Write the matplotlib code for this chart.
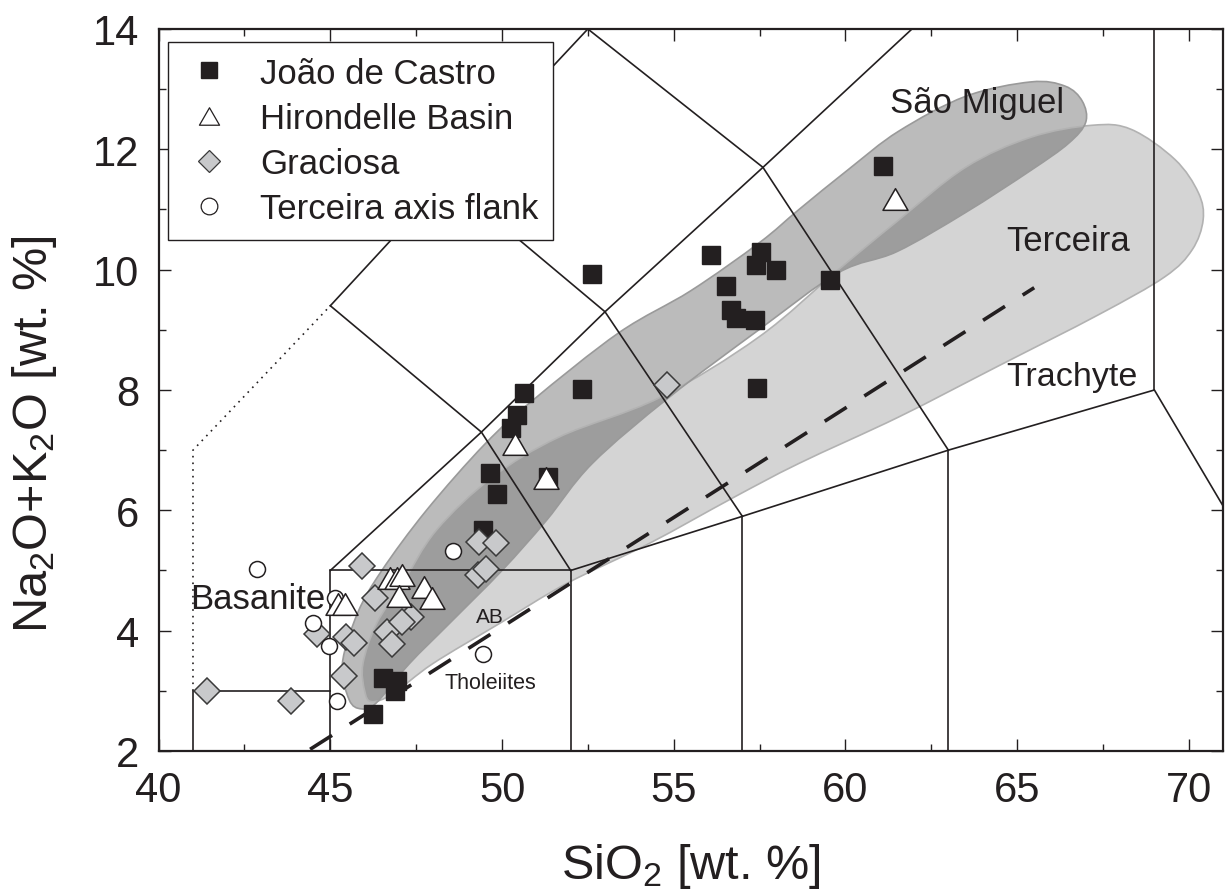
import numpy as np
import matplotlib
matplotlib.use('Agg')
import matplotlib.pyplot as plt
from matplotlib.path import Path
from matplotlib.patches import PathPatch
from matplotlib.lines import Line2D
from matplotlib.ticker import MultipleLocator

plt.rcParams['font.family'] = ['Liberation Sans', 'DejaVu Sans']
plt.rcParams['mathtext.default'] = 'regular'

INK = '#231f20'

# ---------------- data ----------------
jdc_x = [61.1, 52.63, 56.09, 57.55, 57.4, 57.97, 56.52, 56.67, 56.82, 57.37, 59.55, 57.42,
         52.34, 50.65, 50.45, 50.27, 49.64, 49.84, 49.46, 51.35, 46.52, 46.93, 46.87, 46.23]
jdc_y = [11.73, 9.92, 10.25, 10.3, 10.08, 10.0, 9.72, 9.33, 9.2, 9.17, 9.83, 8.03,
         8.02, 7.95, 7.58, 7.37, 6.62, 6.27, 5.67, 6.55, 3.22, 3.17, 3.0, 2.62]

hb_x = [61.44, 50.39, 51.29, 46.73, 46.93, 47.1, 47.01, 47.74, 47.97, 45.21, 45.42]
hb_y = [11.17, 7.1, 6.53, 4.87, 4.88, 4.92, 4.58, 4.72, 4.55, 4.45, 4.45]

gr_x = [41.4, 43.85, 45.92, 46.3, 44.6, 45.47, 45.7, 45.4, 46.66, 46.8, 47.35, 47.1,
        49.34, 49.83, 49.3, 49.52, 54.81]
gr_y = [3.0, 2.83, 5.08, 4.55, 3.95, 3.9, 3.8, 3.25, 3.97, 3.78, 4.22, 4.15,
        5.47, 5.45, 4.92, 5.03, 8.08]

ter_x = [42.86, 45.13, 44.5, 44.96, 45.18, 48.57, 49.44]
ter_y = [5.02, 4.55, 4.13, 3.75, 2.83, 5.33, 3.62]

# field outlines
sm_x = [45.55, 45.35, 45.8, 46.5, 47.8, 49.5, 50.9, 53.4, 55.5, 57.5, 58.65, 60.1, 61.55,
        63.5, 65.4, 66.4, 66.9, 67.0, 66.5, 65.4, 63.5, 61.5, 59.8, 57.48, 54.87, 52.63,
        51.29, 50.0, 48.47, 47.3, 46.34, 45.9]
sm_y = [2.85, 3.45, 4.3, 5.0, 6.0, 7.1, 7.83, 8.95, 9.65, 10.45, 11.0, 11.67, 12.3,
        12.88, 13.12, 13.05, 12.8, 12.45, 12.1, 11.65, 10.95, 10.3, 9.95, 9.0, 7.88, 6.78,
        5.83, 5.0, 4.12, 3.45, 2.8, 2.7]

tc_x = [46.2, 46.82, 47.98, 49.93, 51.87, 54.29, 56.7, 58.65, 61.55, 64.46, 67.37, 69.3,
        70.1, 70.42, 70.28, 69.6, 68.33, 67.2, 65.4, 63.5, 61.5, 59.8, 57.48, 54.58,
        51.67, 49.72, 48.09, 47.1, 46.35, 45.95, 46.0]
tc_y = [2.82, 2.95, 3.45, 4.12, 4.78, 5.45, 6.2, 6.78, 7.55, 8.4, 9.25, 9.88,
        10.33, 10.83, 11.28, 11.83, 12.33, 12.4, 12.2, 11.7, 10.8, 10.0, 8.88, 7.87,
        7.22, 6.55, 5.67, 4.78, 4.12, 3.45, 3.0]

# TAS classification boundaries (Le Bas et al. 1986)
tas_solid = [
    [(41, 2), (41, 3), (45, 3)],
    [(45, 2), (45, 5), (52, 5), (52, 2)],
    [(57, 2), (57, 5.9)],
    [(63, 2), (63, 7)],
    [(52, 5), (57, 5.9), (63, 7), (69, 8), (77.3, 0)],
    [(45, 5), (49.4, 7.3), (53, 9.3), (57.6, 11.7), (61.94, 14)],
    [(45, 9.4), (49.4, 7.3), (52, 5)],
    [(45, 9.4), (48.4, 11.5), (52.5, 14), (57.6, 11.7), (63, 7)],
    [(48.4, 11.5), (53, 9.3), (57, 5.9)],
    [(69, 8), (69, 14)],
]
tas_dotted = [[(41, 3), (41, 7), (45, 9.4)]]
alk_line = [(39.8, 0.35), (65.5, 9.7)]   # alkaline / tholeiite divide


def smooth_closed(xs, ys):
    P = np.column_stack([xs, ys])
    n = len(P)
    verts = [P[0]]
    codes = [Path.MOVETO]
    for i in range(n):
        p0, p1, p2, p3 = P[i - 1], P[i], P[(i + 1) % n], P[(i + 2) % n]
        verts += [p1 + (p2 - p0) / 6.0, p2 - (p3 - p1) / 6.0, p2]
        codes += [Path.CURVE4] * 3
    verts.append(P[0])
    codes.append(Path.CLOSEPOLY)
    return Path(np.array(verts), codes)


fig = plt.figure(figsize=(12.26, 8.95), dpi=100)
ax = fig.add_axes([0.1294, 0.1598, 0.8682, 0.8067])
ax.set_xlim(40, 71)
ax.set_ylim(2, 14)

# fields
ax.add_patch(PathPatch(smooth_closed(tc_x, tc_y), facecolor='#d4d4d4', edgecolor='none', zorder=1))
ax.add_patch(PathPatch(smooth_closed(sm_x, sm_y), facecolor=(0.125, 0.125, 0.125, 0.30),
                       edgecolor='none', zorder=1.1))
ax.add_patch(PathPatch(smooth_closed(tc_x, tc_y), facecolor='none', edgecolor='#b2b2b2', lw=1.2, zorder=1.2))
ax.add_patch(PathPatch(smooth_closed(sm_x, sm_y), facecolor='none', edgecolor='#9a9a9a', lw=1.2, zorder=1.2))

for seg in tas_solid:
    xs, ys = zip(*seg)
    ax.plot(xs, ys, color=INK, lw=1.2, zorder=2, solid_joinstyle='miter')
for seg in tas_dotted:
    xs, ys = zip(*seg)
    ax.plot(xs, ys, color=INK, lw=1.2, ls=(0, (1, 3)), zorder=2)
ax.plot(*zip(*alk_line), color=INK, lw=2.6, ls=(0, (7.2, 5.8)), dash_capstyle='butt', zorder=2.5)

tri = Path([(0, 0.5), (-0.577, -0.5), (0.577, -0.5), (0, 0.5)],
           [Path.MOVETO, Path.LINETO, Path.LINETO, Path.CLOSEPOLY])

ax.plot(jdc_x, jdc_y, ls='none', marker='s', ms=13, mfc=INK, mec=INK, mew=1, zorder=3)
ax.plot(gr_x, gr_y, ls='none', marker='D', ms=13, mfc='#c8c9cb', mec='#3a3a3a', mew=1.1, zorder=4)
ax.plot(ter_x, ter_y, ls='none', marker='o', ms=11.5, mfc='white', mec=INK, mew=1.1, zorder=5)
ax.plot(hb_x, hb_y, ls='none', marker=tri, ms=18, mfc='white', mec=INK, mew=1.1, zorder=6)

# labels in diagram
ax.text(61.29, 12.62, 'São Miguel', fontsize=25, color=INK, zorder=7)
ax.text(64.69, 10.33, 'Terceira', fontsize=25, color=INK, zorder=7)
ax.text(64.69, 8.08, 'Trachyte', fontsize=24.5, color=INK, zorder=7)
ax.text(40.91, 4.38, 'Basanite', fontsize=25, color=INK, zorder=7)
ax.text(49.23, 4.15, 'AB', fontsize=15, color=INK, zorder=7)
ax.text(48.33, 3.05, 'Tholeiites', fontsize=15.5, color=INK, zorder=7)

# axes styling
ax.xaxis.set_major_locator(MultipleLocator(5))
ax.xaxis.set_minor_locator(MultipleLocator(2.5))
ax.yaxis.set_major_locator(MultipleLocator(2))
ax.yaxis.set_minor_locator(MultipleLocator(1))
ax.tick_params(which='both', direction='in', top=True, right=True, colors=INK, width=1.0)
ax.tick_params(which='major', length=8.6, labelsize=30, pad=14)
ax.tick_params(which='minor', length=5)
for sp in ax.spines.values():
    sp.set_linewidth(1.6)
    sp.set_color(INK)
    sp.set_zorder(8)

ax.set_xlabel('SiO$_2$ [wt. %]', fontsize=35, color=INK)
ax.set_ylabel('Na$_2$O+K$_2$O [wt. %]', fontsize=35, color=INK)
ax.xaxis.set_label_coords(0.5, -0.125)
ax.yaxis.set_label_coords(-0.094, 0.44)

handles = [
    Line2D([], [], ls='none', marker='s', ms=12, mfc=INK, mec=INK),
    Line2D([], [], ls='none', marker=tri, ms=14.5, mfc='white', mec=INK, mew=0.9),
    Line2D([], [], ls='none', marker='D', ms=10.7, mfc='#c8c9cb', mec='#3a3a3a', mew=0.9),
    Line2D([], [], ls='none', marker='o', ms=12, mfc='white', mec=INK, mew=0.9),
]
labels = ['João de Castro', 'Hirondelle Basin', 'Graciosa', 'Terceira axis flank']
leg = ax.legend(handles, labels, loc='upper left', bbox_to_anchor=(0.0087, 0.982),
                borderaxespad=0, fontsize=25, frameon=True, fancybox=False,
                borderpad=0.42, handlelength=1.5, handletextpad=0.74, labelspacing=0.35,
                edgecolor=INK, framealpha=1)
leg.get_frame().set_linewidth(1.0)
leg.set_zorder(10)
for t in leg.get_texts():
    t.set_color(INK)

fig.savefig('out.png', dpi=100)
